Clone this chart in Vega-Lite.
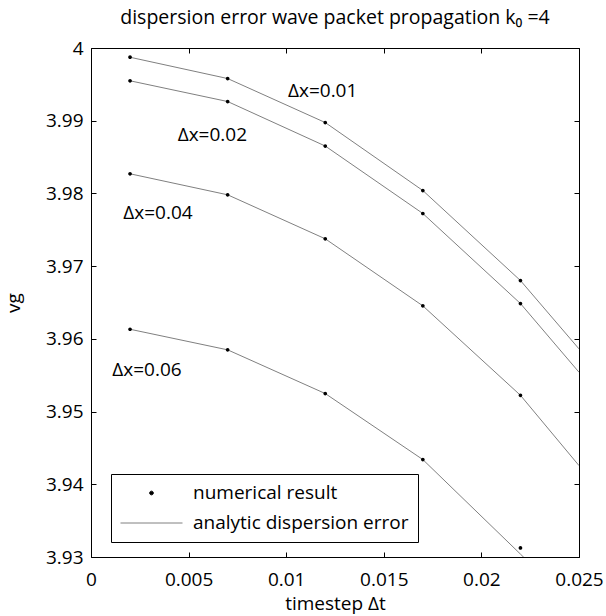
{
  "$schema": "https://vega.github.io/schema/vega-lite/v6.json",
  "width": 488,
  "height": 509,
  "autosize": {"type": "none"},
  "padding": {"left": 91, "top": 48, "right": 27, "bottom": 59},
  "background": "white",
  "title": {"text": "dispersion error wave packet propagation k₀ =4", "font": "Open Sans", "fontSize": 19.5, "fontWeight": "normal", "color": "black", "offset": 11},
  "config": {
    "view": {"stroke": null},
    "axis": {
      "domainColor": "black", "domainWidth": 1, "tickColor": "black", "tickSize": -5, "tickWidth": 1,
      "labelFont": "Open Sans", "labelFontSize": 19, "labelColor": "black",
      "titleFont": "Open Sans", "titleFontSize": 19, "titleFontWeight": "normal", "titleColor": "black",
      "grid": false
    }
  },
  "datasets": {
    "analytic": [
      {"dx": "0.01", "dt": 0.002, "vg": 3.99873}, {"dx": "0.01", "dt": 0.007, "vg": 3.9958}, {"dx": "0.01", "dt": 0.012, "vg": 3.98975}, {"dx": "0.01", "dt": 0.017, "vg": 3.9804}, {"dx": "0.01", "dt": 0.022, "vg": 3.96802}, {"dx": "0.01", "dt": 0.025, "vg": 3.95862},
      {"dx": "0.02", "dt": 0.002, "vg": 3.99549}, {"dx": "0.02", "dt": 0.007, "vg": 3.99264}, {"dx": "0.02", "dt": 0.012, "vg": 3.98652}, {"dx": "0.02", "dt": 0.017, "vg": 3.97724}, {"dx": "0.02", "dt": 0.022, "vg": 3.96486}, {"dx": "0.02", "dt": 0.025, "vg": 3.95541},
      {"dx": "0.04", "dt": 0.002, "vg": 3.9827}, {"dx": "0.04", "dt": 0.007, "vg": 3.97981}, {"dx": "0.04", "dt": 0.012, "vg": 3.97376}, {"dx": "0.04", "dt": 0.017, "vg": 3.96454}, {"dx": "0.04", "dt": 0.022, "vg": 3.95224}, {"dx": "0.04", "dt": 0.025, "vg": 3.94257},
      {"dx": "0.06", "dt": 0.002, "vg": 3.96132}, {"dx": "0.06", "dt": 0.007, "vg": 3.95849}, {"dx": "0.06", "dt": 0.012, "vg": 3.95248}, {"dx": "0.06", "dt": 0.017, "vg": 3.9434}, {"dx": "0.06", "dt": 0.022, "vg": 3.9304}, {"dx": "0.06", "dt": 0.025, "vg": 3.9225}
    ],
    "numerical": [
      {"kind": "numerical result", "dx": "0.01", "dt": 0.002, "vg": 3.99873}, {"kind": "numerical result", "dx": "0.01", "dt": 0.007, "vg": 3.9958}, {"kind": "numerical result", "dx": "0.01", "dt": 0.012, "vg": 3.98975}, {"kind": "numerical result", "dx": "0.01", "dt": 0.017, "vg": 3.9804}, {"kind": "numerical result", "dx": "0.01", "dt": 0.022, "vg": 3.96802},
      {"kind": "numerical result", "dx": "0.02", "dt": 0.002, "vg": 3.99549}, {"kind": "numerical result", "dx": "0.02", "dt": 0.007, "vg": 3.99264}, {"kind": "numerical result", "dx": "0.02", "dt": 0.012, "vg": 3.98652}, {"kind": "numerical result", "dx": "0.02", "dt": 0.017, "vg": 3.97724}, {"kind": "numerical result", "dx": "0.02", "dt": 0.022, "vg": 3.96486},
      {"kind": "numerical result", "dx": "0.04", "dt": 0.002, "vg": 3.9827}, {"kind": "numerical result", "dx": "0.04", "dt": 0.007, "vg": 3.97981}, {"kind": "numerical result", "dx": "0.04", "dt": 0.012, "vg": 3.97376}, {"kind": "numerical result", "dx": "0.04", "dt": 0.017, "vg": 3.96454}, {"kind": "numerical result", "dx": "0.04", "dt": 0.022, "vg": 3.95224},
      {"kind": "numerical result", "dx": "0.06", "dt": 0.002, "vg": 3.96132}, {"kind": "numerical result", "dx": "0.06", "dt": 0.007, "vg": 3.95849}, {"kind": "numerical result", "dx": "0.06", "dt": 0.012, "vg": 3.95248}, {"kind": "numerical result", "dx": "0.06", "dt": 0.017, "vg": 3.9434}, {"kind": "numerical result", "dx": "0.06", "dt": 0.022, "vg": 3.93125}
    ],
    "labels": [
      {"text": "Δx=0.01", "dt": 0.01009, "vg": 3.99402},
      {"text": "Δx=0.02", "dt": 0.00444, "vg": 3.988},
      {"text": "Δx=0.04", "dt": 0.00165, "vg": 3.97733},
      {"text": "Δx=0.06", "dt": 0.00109, "vg": 3.95578}
    ]
  },
  "layer": [
    {
      "data": {"name": "analytic"},
      "mark": {"type": "line", "color": "#808080", "strokeWidth": 1, "clip": true},
      "encoding": {
        "x": {"field": "dt", "type": "quantitative", "scale": {"domain": [0, 0.025], "nice": false, "zero": false},
              "axis": {"orient": "bottom", "values": [0, 0.005, 0.01, 0.015, 0.02, 0.025], "labelExpr": "'' + datum.value", "labelPadding": 18, "title": "timestep Δt", "titlePadding": 5, "labelFlush": false}},
        "y": {"field": "vg", "type": "quantitative", "scale": {"domain": [3.93, 4], "nice": false, "zero": false},
              "axis": {"orient": "left", "values": [3.93, 3.94, 3.95, 3.96, 3.97, 3.98, 3.99, 4], "labelExpr": "'' + datum.value", "labelPadding": 13, "title": "vg", "titlePadding": 22, "labelFlush": false}},
        "detail": {"field": "dx"}
      }
    },
    {
      "data": {"name": "numerical"},
      "mark": {"type": "point", "filled": true, "size": 3844, "opacity": 1},
      "encoding": {
        "x": {"field": "dt", "type": "quantitative", "axis": null},
        "y": {"field": "vg", "type": "quantitative", "axis": null},
        "color": {"field": "kind", "type": "nominal",
          "scale": {"domain": ["numerical result", "analytic dispersion error"], "range": ["black", "#808080"]},
          "legend": {"orient": "none", "legendX": 20, "legendY": 426, "title": null, "symbolSize": 3844, "clipHeight": 20, "rowPadding": 10, "labelOffset": 10, "labelLimit": 500, "labelFont": "Open Sans", "labelFontSize": 19, "labelColor": "black", "strokeColor": "black", "fillColor": "white", "padding": 9, "symbolStrokeWidth": 1, "symbolOpacity": 1,
            "encode": {"symbols": {"update": {"stroke": {"scale": "color", "field": "value"}}}}}},
        "shape": {"field": "kind", "type": "nominal",
          "scale": {"domain": ["numerical result", "analytic dispersion error"], "range": ["M0,-0.06A0.06,0.06,0,1,1,0,0.06A0.06,0.06,0,1,1,0,-0.06Z", "M-1,0H1"]},
          "legend": {"orient": "none", "legendX": 20, "legendY": 426, "title": null, "symbolSize": 3844, "clipHeight": 20, "rowPadding": 10, "labelOffset": 10, "labelLimit": 500, "labelFont": "Open Sans", "labelFontSize": 19, "labelColor": "black", "strokeColor": "black", "fillColor": "white", "padding": 9, "symbolStrokeWidth": 1, "symbolOpacity": 1,
            "encode": {"symbols": {"update": {"stroke": {"scale": "color", "field": "value"}}}}}}
      }
    },
    {
      "data": {"name": "labels"},
      "mark": {"type": "text", "align": "left", "baseline": "middle", "font": "Open Sans", "fontSize": 19, "color": "black"},
      "encoding": {
        "x": {"field": "dt", "type": "quantitative", "axis": null},
        "y": {"field": "vg", "type": "quantitative", "axis": null},
        "text": {"field": "text"}
      }
    },
    {
      "data": {"name": "labels"},
      "mark": {"type": "point", "opacity": 0},
      "encoding": {
        "x": {"field": "dt", "type": "quantitative", "axis": {"orient": "top", "values": [0, 0.005, 0.01, 0.015, 0.02, 0.025], "labels": false, "title": null}},
        "y": {"field": "vg", "type": "quantitative", "axis": {"orient": "right", "values": [3.93, 3.94, 3.95, 3.96, 3.97, 3.98, 3.99, 4], "labels": false, "title": null}}
      }
    }
  ],
  "resolve": {"axis": {"x": "independent", "y": "independent"}}
}
